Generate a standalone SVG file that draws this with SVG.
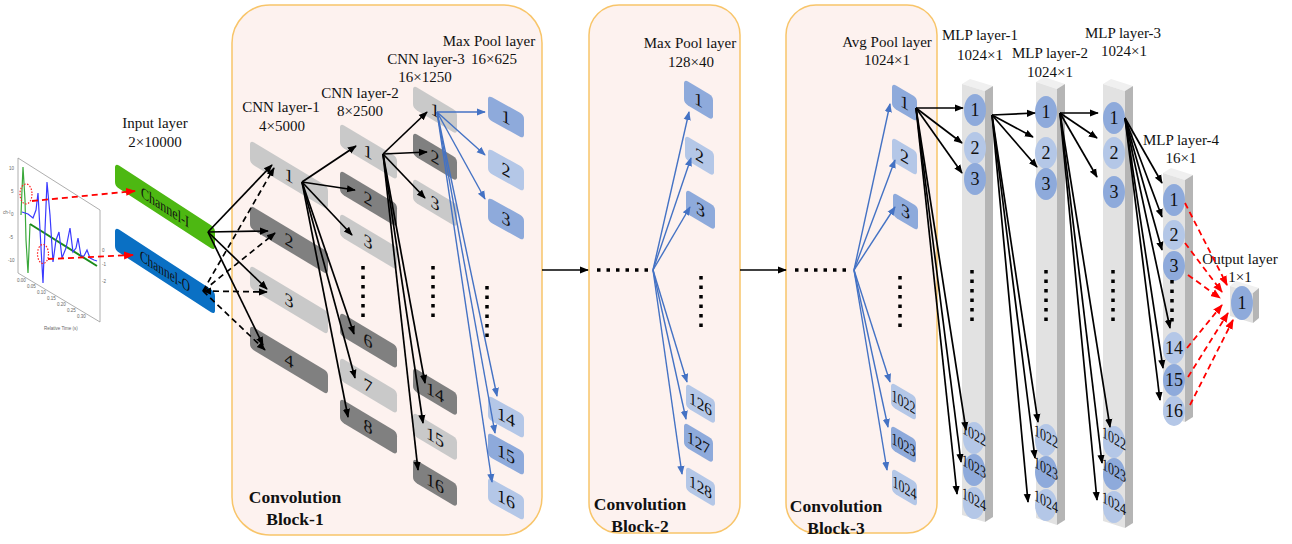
<svg xmlns="http://www.w3.org/2000/svg" width="1292" height="544" viewBox="0 0 1292 544">
<defs>
<style>
.blk{fill:#fdf2ef;stroke:#f8c56a;stroke-width:1.5}
.lt{fill:#c9c9c9}.dk{fill:#808080}.bm{fill:#8eaadb}.bl{fill:#b4c7e7}
.num{font-family:"Liberation Serif",serif;font-size:18px;text-anchor:middle;fill:#111}
.n4{font-family:"Liberation Serif",serif;font-size:15px;text-anchor:middle;fill:#111}
.n5{font-family:"Liberation Serif",serif;font-size:17px;text-anchor:middle;fill:#111}
.lbl{font-family:"Liberation Serif",serif;font-size:15px;text-anchor:middle;fill:#111}
.bold{font-family:"Liberation Serif",serif;font-size:17.5px;font-weight:bold;text-anchor:middle;fill:#111}
.tiny{font-family:"Liberation Sans",sans-serif;font-size:4.5px;fill:#666}
.ar{stroke:#000;stroke-width:1.7;fill:none;marker-end:url(#ab)}
.ard{stroke:#000;stroke-width:1.7;fill:none;stroke-dasharray:6 4;marker-end:url(#ab)}
.arb{stroke:#4472c4;stroke-width:1.4;fill:none;marker-end:url(#abl)}
.arr{stroke:#ff0000;stroke-width:1.8;fill:none;stroke-dasharray:6 4;marker-end:url(#ar)}
.dots{stroke:#000;stroke-width:3.5;stroke-dasharray:3.5 6;fill:none}
.front{fill:#e2e2e2}.side{fill:#b5b5b5}.top{fill:#f0f0f0}
</style>
<marker id="ab" viewBox="0 0 10 10" refX="9" refY="5" markerWidth="9" markerHeight="9" markerUnits="userSpaceOnUse" orient="auto-start-reverse"><path d="M0,1 L10,5 L0,9 z" fill="#000"/></marker>
<marker id="abl" viewBox="0 0 10 10" refX="9" refY="5" markerWidth="9" markerHeight="9" markerUnits="userSpaceOnUse" orient="auto"><path d="M0,1 L10,5 L0,9 z" fill="#4472c4"/></marker>
<marker id="ar" viewBox="0 0 10 10" refX="9" refY="5" markerWidth="10" markerHeight="10" markerUnits="userSpaceOnUse" orient="auto"><path d="M0,1 L10,5 L0,9 z" fill="#ff0000"/></marker>
</defs>
<rect width="1292" height="544" fill="#ffffff"/>

<!-- blocks -->
<g id="block1"><rect class="blk" x="232" y="5" width="310" height="530" rx="38"/><text class="bold" x="295" y="503">Convolution</text><text class="bold" x="295" y="525">Block-1</text></g>
<g id="block2"><rect class="blk" x="589" y="5" width="151" height="528" rx="30"/><text class="bold" x="640" y="510">Convolution</text><text class="bold" x="640" y="532">Block-2</text></g>
<g id="block3"><rect class="blk" x="786" y="5" width="151" height="528" rx="30"/><text class="bold" x="836" y="512">Convolution</text><text class="bold" x="836" y="534">Block-3</text></g>

<!-- signal plot -->
<g id="signal-plot">
<path d="M18,158 L100,210 L100,322 M18,158 L18,273 L100,322" fill="none" stroke="#999" stroke-width="0.8"/>
<polyline points="21,215 22,190 23,167 25,200 26,240 28,273 29,250 30,224" fill="none" stroke="#3aa83a" stroke-width="1.2"/>
<line x1="30" y1="224" x2="97" y2="266" stroke="#1a8a1a" stroke-width="2"/>
<polyline points="22,212 28,214 33,218 36,210 38,193 40,230 43,283 45,230 47,182 50,215 53,262 56,240 59,232 62,258 66,248 70,228 73,252 76,248 78,238 81,256 84,256 87,250 90,258 94,260 97,261" fill="none" stroke="#3a3aff" stroke-width="1.2"/>
<ellipse cx="26" cy="194" rx="6" ry="10" fill="none" stroke="#ff2020" stroke-width="1.2" stroke-dasharray="1.5 1.5"/>
<ellipse cx="43" cy="254" rx="5.5" ry="9.5" fill="none" stroke="#ff2020" stroke-width="1.2" stroke-dasharray="1.5 1.5"/>
<text class="tiny" x="9" y="170">10</text><text class="tiny" x="11" y="193">5</text><text class="tiny" x="11" y="216">0</text><text class="tiny" x="9" y="239">-5</text><text class="tiny" x="8" y="262">-10</text>
<text class="tiny" x="3" y="214" fill="#3aa83a">ch-I</text>
<text class="tiny" x="102" y="252">0</text><text class="tiny" x="102" y="266">-1</text><text class="tiny" x="102" y="283">-2</text>
<text class="tiny" x="17" y="282">0.00</text><text class="tiny" x="27" y="288">0.05</text><text class="tiny" x="37" y="294">0.10</text><text class="tiny" x="47" y="300">0.15</text><text class="tiny" x="57" y="306">0.20</text><text class="tiny" x="67" y="312">0.25</text><text class="tiny" x="77" y="318">0.30</text>
<text class="tiny" x="44" y="330">Relative Time (s)</text>
</g>

<!-- input layer -->
<g id="input-label"><text class="lbl" x="155" y="128">Input layer</text><text class="lbl" x="155" y="147">2×10000</text></g>
<g id="channel-I" transform="translate(115,163) skewY(33)"><rect width="100" height="23" rx="4" fill="#4db812"/><text x="50" y="17" font-family="Liberation Serif,serif" font-size="16" text-anchor="middle" fill="#111" textLength="48" lengthAdjust="spacingAndGlyphs">Channel-I</text></g>
<g id="channel-O" transform="translate(115,227) skewY(33)"><rect width="100" height="23" rx="4" fill="#0a70c4"/><text x="50" y="17" font-family="Liberation Serif,serif" font-size="16" text-anchor="middle" fill="#111" textLength="50" lengthAdjust="spacingAndGlyphs">Channel-O</text></g>

<!-- labels -->
<g id="labels">
<text class="lbl" x="281" y="112">CNN layer-1</text><text class="lbl" x="282" y="131">4×5000</text>
<text class="lbl" x="360" y="98">CNN layer-2</text><text class="lbl" x="360" y="116">8×2500</text>
<text class="lbl" x="426" y="64">CNN layer-3</text><text class="lbl" x="425" y="82">16×1250</text>
<text class="lbl" x="489" y="46">Max Pool layer</text><text class="lbl" x="494" y="64">16×625</text>
<text class="lbl" x="690" y="48">Max Pool layer</text><text class="lbl" x="691" y="67">128×40</text>
<text class="lbl" x="887" y="47">Avg Pool layer</text><text class="lbl" x="887" y="65">1024×1</text>
<text class="lbl" x="980" y="40">MLP layer-1</text><text class="lbl" x="980" y="60">1024×1</text>
<text class="lbl" x="1050" y="58">MLP layer-2</text><text class="lbl" x="1050" y="77">1024×1</text>
<text class="lbl" x="1123" y="38">MLP layer-3</text><text class="lbl" x="1124" y="56">1024×1</text>
<text class="lbl" x="1181" y="145">MLP layer-4</text><text class="lbl" x="1181" y="163">16×1</text>
<text class="lbl" x="1240" y="264">Output layer</text><text class="lbl" x="1240" y="282">1×1</text>
</g>

<!-- CNN layer 1 -->
<g id="cnn1-1" transform="translate(250,140) skewY(31)"><rect class="lt" width="78" height="23" rx="4"/><text class="num" x="39" y="18">1</text></g>
<g id="cnn1-2" transform="translate(250,205) skewY(31)"><rect class="dk" width="78" height="23" rx="4"/><text class="num" x="39" y="18">2</text></g>
<g id="cnn1-3" transform="translate(250,265) skewY(31)"><rect class="lt" width="78" height="23" rx="4"/><text class="num" x="39" y="18">3</text></g>
<g id="cnn1-4" transform="translate(250,325) skewY(31)"><rect class="dk" width="78" height="23" rx="4"/><text class="num" x="39" y="18">4</text></g>
<!-- CNN layer 2 -->
<g id="cnn2-1" transform="translate(340,123) skewY(31)"><rect class="lt" width="57" height="23" rx="4"/><text class="num" x="28" y="18">1</text></g>
<g id="cnn2-2" transform="translate(340,170) skewY(31)"><rect class="dk" width="57" height="23" rx="4"/><text class="num" x="28" y="18">2</text></g>
<g id="cnn2-3" transform="translate(340,213) skewY(31)"><rect class="lt" width="57" height="23" rx="4"/><text class="num" x="28" y="18">3</text></g>
<g id="cnn2-6" transform="translate(340,312) skewY(31)"><rect class="dk" width="57" height="23" rx="4"/><text class="num" x="28" y="18">6</text></g>
<g id="cnn2-7" transform="translate(340,357) skewY(31)"><rect class="lt" width="57" height="23" rx="4"/><text class="num" x="28" y="18">7</text></g>
<g id="cnn2-8" transform="translate(340,398) skewY(31)"><rect class="dk" width="57" height="23" rx="4"/><text class="num" x="28" y="18">8</text></g>
<!-- CNN layer 3 -->
<g id="cnn3-1" transform="translate(413,85) skewY(31)"><rect class="lt" width="44" height="23" rx="4"/><text class="num" x="22" y="18">1</text></g>
<g id="cnn3-2" transform="translate(413,132) skewY(31)"><rect class="dk" width="44" height="23" rx="4"/><text class="num" x="22" y="18">2</text></g>
<g id="cnn3-3" transform="translate(413,178) skewY(31)"><rect class="lt" width="44" height="23" rx="4"/><text class="num" x="22" y="18">3</text></g>
<g id="cnn3-14" transform="translate(413,367) skewY(31)"><rect class="dk" width="44" height="23" rx="4"/><text class="num" x="22" y="18">14</text></g>
<g id="cnn3-15" transform="translate(413,412) skewY(31)"><rect class="lt" width="44" height="23" rx="4"/><text class="num" x="22" y="18">15</text></g>
<g id="cnn3-16" transform="translate(413,458) skewY(31)"><rect class="dk" width="44" height="23" rx="4"/><text class="num" x="22" y="18">16</text></g>
<!-- Max pool block 1 -->
<g id="mp1-1" transform="translate(488,95) skewY(29)"><rect class="bm" width="36" height="24" rx="4"/><text class="num" x="18" y="18">1</text></g>
<g id="mp1-2" transform="translate(488,148) skewY(29)"><rect class="bl" width="36" height="24" rx="4"/><text class="num" x="18" y="18">2</text></g>
<g id="mp1-3" transform="translate(488,197) skewY(29)"><rect class="bm" width="36" height="24" rx="4"/><text class="num" x="18" y="18">3</text></g>
<g id="mp1-14" transform="translate(488,395) skewY(29)"><rect class="bl" width="36" height="24" rx="4"/><text class="num" x="18" y="18">14</text></g>
<g id="mp1-15" transform="translate(488,432) skewY(29)"><rect class="bm" width="36" height="24" rx="4"/><text class="num" x="18" y="18">15</text></g>
<g id="mp1-16" transform="translate(488,477) skewY(29)"><rect class="bl" width="36" height="24" rx="4"/><text class="num" x="18" y="18">16</text></g>
<!-- Max pool block 2 -->
<g id="mp2-1" transform="translate(684,79) skewY(31)"><rect class="bm" width="29" height="24" rx="4"/><text class="num" x="14.5" y="18">1</text></g>
<g id="mp2-2" transform="translate(685,135) skewY(31)"><rect class="bl" width="29" height="24" rx="4"/><text class="num" x="14.5" y="18">2</text></g>
<g id="mp2-3" transform="translate(686,189) skewY(31)"><rect class="bm" width="29" height="24" rx="4"/><text class="num" x="14.5" y="18">3</text></g>
<g id="mp2-126" transform="translate(686,383) skewY(31)"><rect class="bl" width="29" height="24" rx="4"/><text class="n5" x="14.5" y="18" textLength="23" lengthAdjust="spacingAndGlyphs">126</text></g>
<g id="mp2-127" transform="translate(684,422) skewY(31)"><rect class="bm" width="29" height="24" rx="4"/><text class="n5" x="14.5" y="18" textLength="23" lengthAdjust="spacingAndGlyphs">127</text></g>
<g id="mp2-128" transform="translate(686,466) skewY(31)"><rect class="bl" width="29" height="24" rx="4"/><text class="n5" x="14.5" y="18" textLength="23" lengthAdjust="spacingAndGlyphs">128</text></g>
<!-- Avg pool block 3 -->
<g id="ap-1" transform="translate(892,83) skewY(31)"><rect class="bm" width="25" height="24" rx="4"/><text class="num" x="12.5" y="18">1</text></g>
<g id="ap-2" transform="translate(892,137) skewY(31)"><rect class="bl" width="25" height="24" rx="4"/><text class="num" x="12.5" y="18">2</text></g>
<g id="ap-3" transform="translate(893,192) skewY(31)"><rect class="bm" width="25" height="24" rx="4"/><text class="num" x="12.5" y="18">3</text></g>
<g id="ap-1022" transform="translate(891,382) skewY(31)"><rect class="bl" width="25" height="24" rx="4"/><text class="n5" x="12.5" y="18" textLength="24" lengthAdjust="spacingAndGlyphs">1022</text></g>
<g id="ap-1023" transform="translate(891,425) skewY(31)"><rect class="bm" width="25" height="24" rx="4"/><text class="n5" x="12.5" y="18" textLength="24" lengthAdjust="spacingAndGlyphs">1023</text></g>
<g id="ap-1024" transform="translate(892,468) skewY(31)"><rect class="bl" width="25" height="24" rx="4"/><text class="n5" x="12.5" y="18" textLength="24" lengthAdjust="spacingAndGlyphs">1024</text></g>

<!-- MLP bars -->
<g id="mlp1">
<polygon class="top" points="962,84 970,79 993,86 985,91"/><polygon class="front" points="962,84 985,91 985,522 962,515"/><polygon class="side" points="985,91 993,86 993,517 985,522"/>
<g transform="translate(975,110)"><ellipse class="bm" rx="11" ry="16"/><text class="num" y="6">1</text></g>
<g transform="translate(975,148)"><ellipse class="bl" rx="11" ry="16"/><text class="num" y="6">2</text></g>
<g transform="translate(975,179)"><ellipse class="bm" rx="11" ry="16"/><text class="num" y="6">3</text></g>
<g transform="translate(974,438)"><ellipse class="bl" rx="11" ry="16"/><text class="n5" y="2" transform="skewY(30)" textLength="24" lengthAdjust="spacingAndGlyphs">1022</text></g>
<g transform="translate(974,470)"><ellipse class="bm" rx="11" ry="16"/><text class="n5" y="2" transform="skewY(30)" textLength="24" lengthAdjust="spacingAndGlyphs">1023</text></g>
<g transform="translate(974,503)"><ellipse class="bl" rx="11" ry="16"/><text class="n5" y="2" transform="skewY(30)" textLength="24" lengthAdjust="spacingAndGlyphs">1024</text></g>
</g>
<g id="mlp2">
<polygon class="top" points="1036,82 1044,77 1065,84 1057,89"/><polygon class="front" points="1036,82 1057,89 1057,525 1036,518"/><polygon class="side" points="1057,89 1065,84 1065,520 1057,525"/>
<g transform="translate(1046,112)"><ellipse class="bm" rx="11" ry="16"/><text class="num" y="6">1</text></g>
<g transform="translate(1046,153)"><ellipse class="bl" rx="11" ry="16"/><text class="num" y="6">2</text></g>
<g transform="translate(1046,184)"><ellipse class="bm" rx="11" ry="16"/><text class="num" y="6">3</text></g>
<g transform="translate(1046,440)"><ellipse class="bl" rx="11" ry="16"/><text class="n5" y="2" transform="skewY(30)" textLength="24" lengthAdjust="spacingAndGlyphs">1022</text></g>
<g transform="translate(1046,472)"><ellipse class="bm" rx="11" ry="16"/><text class="n5" y="2" transform="skewY(30)" textLength="24" lengthAdjust="spacingAndGlyphs">1023</text></g>
<g transform="translate(1046,505)"><ellipse class="bl" rx="11" ry="16"/><text class="n5" y="2" transform="skewY(30)" textLength="24" lengthAdjust="spacingAndGlyphs">1024</text></g>
</g>
<g id="mlp3">
<polygon class="top" points="1103,84 1111,79 1133,86 1125,91"/><polygon class="front" points="1103,84 1125,91 1125,528 1103,521"/><polygon class="side" points="1125,91 1133,86 1133,523 1125,528"/>
<g transform="translate(1114,118)"><ellipse class="bm" rx="11" ry="16"/><text class="num" y="6">1</text></g>
<g transform="translate(1114,153)"><ellipse class="bl" rx="11" ry="16"/><text class="num" y="6">2</text></g>
<g transform="translate(1114,192)"><ellipse class="bm" rx="11" ry="16"/><text class="num" y="6">3</text></g>
<g transform="translate(1114,442)"><ellipse class="bl" rx="11" ry="16"/><text class="n5" y="2" transform="skewY(30)" textLength="24" lengthAdjust="spacingAndGlyphs">1022</text></g>
<g transform="translate(1114,474)"><ellipse class="bm" rx="11" ry="16"/><text class="n5" y="2" transform="skewY(30)" textLength="24" lengthAdjust="spacingAndGlyphs">1023</text></g>
<g transform="translate(1114,507)"><ellipse class="bl" rx="11" ry="16"/><text class="n5" y="2" transform="skewY(30)" textLength="24" lengthAdjust="spacingAndGlyphs">1024</text></g>
</g>
<g id="mlp4">
<polygon class="top" points="1163,173 1171,168 1193,175 1185,180"/><polygon class="front" points="1163,173 1185,180 1185,422 1163,415"/><polygon class="side" points="1185,180 1193,175 1193,417 1185,422"/>
<g transform="translate(1174,200)"><ellipse class="bm" rx="11" ry="16"/><text class="num" y="6">1</text></g>
<g transform="translate(1174,235)"><ellipse class="bl" rx="11" ry="15"/><text class="num" y="6">2</text></g>
<g transform="translate(1174,266)"><ellipse class="bm" rx="11" ry="15"/><text class="num" y="6">3</text></g>
<g transform="translate(1174,348)"><ellipse class="bl" rx="11" ry="16"/><text class="num" y="6">14</text></g>
<g transform="translate(1174,380)"><ellipse class="bm" rx="11" ry="16"/><text class="num" y="6">15</text></g>
<g transform="translate(1174,411)"><ellipse class="bl" rx="11" ry="15"/><text class="num" y="6">16</text></g>
</g>
<g id="output">
<polygon class="top" points="1230,286 1236,281 1259,288 1253,293"/><polygon class="front" points="1230,286 1253,293 1253,323 1230,316"/><polygon class="side" points="1253,293 1259,288 1259,318 1253,323"/>
<g transform="translate(1242,303)"><ellipse class="bm" rx="11" ry="17"/><text class="num" y="6">1</text></g>
</g>

<!-- dots -->
<g id="ellipsis-dots">
<line class="dots" x1="363" y1="266" x2="363" y2="318"/>
<line class="dots" x1="433" y1="266" x2="433" y2="318"/>
<line class="dots" x1="487" y1="286" x2="487" y2="338"/>
<line class="dots" x1="701" y1="276" x2="701" y2="328"/>
<line class="dots" x1="900" y1="276" x2="900" y2="328"/>
<line class="dots" x1="972" y1="270" x2="972" y2="322"/>
<line class="dots" x1="1046" y1="270" x2="1046" y2="322"/>
<line class="dots" x1="1113" y1="270" x2="1113" y2="322"/>
<line class="dots" x1="1172" y1="280" x2="1172" y2="322"/>
<line class="dots" x1="597" y1="270" x2="650" y2="270"/>
<line class="dots" x1="795" y1="270" x2="850" y2="270"/>
</g>

<!-- connectors -->
<g id="connectors">
<line class="arr" x1="32" y1="201" x2="135" y2="191"/>
<line class="arr" x1="48" y1="259" x2="133" y2="255"/>
<line class="ar" x1="208" y1="232" x2="272" y2="165"/>
<line class="ar" x1="208" y1="232" x2="268" y2="231"/>
<line class="ar" x1="208" y1="232" x2="267" y2="289"/>
<line class="ar" x1="208" y1="232" x2="263" y2="345"/>
<line class="ard" x1="203" y1="291" x2="274" y2="168"/>
<line class="ard" x1="203" y1="291" x2="275" y2="233"/>
<line class="ard" x1="203" y1="291" x2="267" y2="292" marker-start="url(#ab)"/>
<line class="ard" x1="203" y1="291" x2="265" y2="350"/>
<line class="ar" x1="302" y1="182" x2="356" y2="146"/>
<line class="ar" x1="302" y1="182" x2="355" y2="190"/>
<line class="ar" x1="302" y1="182" x2="352" y2="235"/>
<line class="ar" x1="302" y1="182" x2="354" y2="334"/>
<line class="ar" x1="302" y1="182" x2="355" y2="378"/>
<line class="ar" x1="302" y1="182" x2="348" y2="417"/>
<line class="ar" x1="383" y1="154" x2="427" y2="112"/>
<line class="ar" x1="383" y1="154" x2="427" y2="152"/>
<line class="ar" x1="383" y1="154" x2="425" y2="198"/>
<line class="ar" x1="383" y1="154" x2="425" y2="383"/>
<line class="ar" x1="383" y1="154" x2="423" y2="423"/>
<line class="ar" x1="383" y1="154" x2="418" y2="470"/>
<line class="arb" x1="437" y1="112" x2="485" y2="112"/>
<line class="arb" x1="437" y1="112" x2="485" y2="155"/>
<line class="arb" x1="437" y1="112" x2="485" y2="199"/>
<line class="arb" x1="437" y1="112" x2="497" y2="396"/>
<line class="arb" x1="437" y1="112" x2="495" y2="433"/>
<line class="arb" x1="437" y1="112" x2="492" y2="482"/>
<line class="ar" x1="542" y1="270" x2="588" y2="270"/>
<line class="ar" x1="740" y1="270" x2="786" y2="270"/>
<line class="arb" x1="653" y1="270" x2="689" y2="112"/>
<line class="arb" x1="653" y1="270" x2="691" y2="158"/>
<line class="arb" x1="653" y1="270" x2="690" y2="207"/>
<line class="arb" x1="653" y1="270" x2="687" y2="382"/>
<line class="arb" x1="653" y1="270" x2="686" y2="419"/>
<line class="arb" x1="653" y1="270" x2="682" y2="474"/>
<line class="arb" x1="854" y1="270" x2="890" y2="104"/>
<line class="arb" x1="854" y1="270" x2="895" y2="160"/>
<line class="arb" x1="854" y1="270" x2="895" y2="207"/>
<line class="arb" x1="854" y1="270" x2="890" y2="382"/>
<line class="arb" x1="854" y1="270" x2="888" y2="427"/>
<line class="arb" x1="854" y1="270" x2="887" y2="470"/>
<line class="ar" x1="916" y1="108" x2="963" y2="108"/>
<line class="ar" x1="916" y1="108" x2="962" y2="143"/>
<line class="ar" x1="916" y1="108" x2="962" y2="173"/>
<line class="ar" x1="916" y1="108" x2="966" y2="430"/>
<line class="ar" x1="916" y1="108" x2="961" y2="462"/>
<line class="ar" x1="916" y1="108" x2="957" y2="494"/>
<line class="ar" x1="992" y1="115" x2="1035" y2="113"/>
<line class="ar" x1="992" y1="115" x2="1033" y2="137"/>
<line class="ar" x1="992" y1="115" x2="1037" y2="167"/>
<line class="ar" x1="992" y1="115" x2="1038" y2="422"/>
<line class="ar" x1="992" y1="115" x2="1035" y2="458"/>
<line class="ar" x1="992" y1="115" x2="1028" y2="502"/>
<line class="ar" x1="1060" y1="113" x2="1098" y2="113"/>
<line class="ar" x1="1060" y1="113" x2="1097" y2="138"/>
<line class="ar" x1="1060" y1="113" x2="1097" y2="177"/>
<line class="ar" x1="1060" y1="113" x2="1110" y2="427"/>
<line class="ar" x1="1060" y1="113" x2="1102" y2="463"/>
<line class="ar" x1="1060" y1="113" x2="1097" y2="500"/>
<line class="ar" x1="1125" y1="118" x2="1162" y2="183"/>
<line class="ar" x1="1125" y1="118" x2="1162" y2="217"/>
<line class="ar" x1="1125" y1="118" x2="1162" y2="250"/>
<line class="ar" x1="1125" y1="118" x2="1170" y2="328"/>
<line class="ar" x1="1125" y1="118" x2="1163" y2="368"/>
<line class="ar" x1="1125" y1="118" x2="1160" y2="400"/>
<line class="arr" x1="1185" y1="203" x2="1227" y2="285"/>
<line class="arr" x1="1185" y1="243" x2="1222" y2="292"/>
<line class="arr" x1="1188" y1="275" x2="1220" y2="298"/>
<line class="arr" x1="1187" y1="348" x2="1222" y2="305"/>
<line class="arr" x1="1188" y1="377" x2="1228" y2="313"/>
<line class="arr" x1="1190" y1="405" x2="1233" y2="320"/>
</g>
</svg>
